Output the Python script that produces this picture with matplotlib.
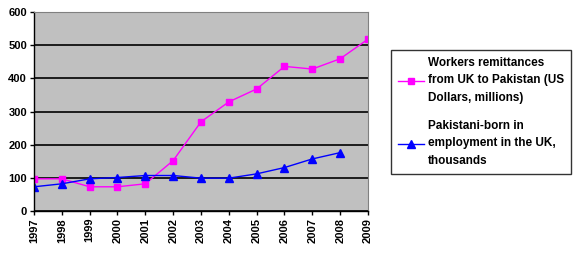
import matplotlib
matplotlib.use("Agg")
import matplotlib.pyplot as plt

years = ["1997", "1998", "1999", "2000", "2001", "2002", "2003",
         "2004", "2005", "2006", "2007", "2008", "2009"]
remittances = [97, 97, 73, 73, 82, 152, 269, 329, 368, 436, 428, 459, 518]
employment = [73, 82, 97, 101, 107, 107, 99, 99, 112, 131, 157, 176]
yticks = [0, 100, 200, 300, 400, 500, 600]

plt.rcParams['font.family'] = ['Liberation Sans', 'DejaVu Sans']

fig = plt.figure(figsize=(5.77, 2.6), dpi=100)
ax = fig.add_axes([34/577, 49/260, 334/577, 199/260])
ax.set_facecolor('#C0C0C0')

x = list(range(len(years)))
ax.plot(x, remittances, color='#FF00FF', lw=1.0, marker='s', ms=5,
        label='Workers remittances\nfrom UK to Pakistan (US\nDollars, millions)')
ax.plot(x[:len(employment)], employment, color='#0000FF', lw=1.0, marker='^', ms=5.5,
        label='Pakistani-born in\nemployment in the UK,\nthousands')

ax.set_xlim(0, len(years) - 1)
ax.set_ylim(0, 600)
ax.set_yticks(yticks)
ax.set_yticklabels([str(v) for v in yticks], fontsize=8, fontweight='bold')
ax.set_xticks(x)
ax.set_xticklabels(years, rotation=90, fontsize=8, fontweight='bold')
ax.yaxis.grid(True, color='black', lw=1.2)
ax.set_axisbelow(True)
ax.tick_params(axis='y', length=3, width=1, pad=2)
ax.tick_params(axis='x', length=3, width=1, pad=2)
for s in ['top', 'right']:
    ax.spines[s].set_color('#808080')
    ax.spines[s].set_linewidth(0.8)
for s in ['left', 'bottom']:
    ax.spines[s].set_color('black')
    ax.spines[s].set_linewidth(1)

leg = fig.legend(loc='upper left', bbox_to_anchor=(391/577, 1 - 50/260),
                 frameon=True, fancybox=False, edgecolor='black',
                 prop={'size': 8.5, 'weight': 'bold'}, handlelength=2.2,
                 handletextpad=0.3, borderpad=0.6, labelspacing=1.35,
                 borderaxespad=0)
for t in leg.get_texts():
    t.set_linespacing(1.6)
leg.get_frame().set_linewidth(1)

fig.savefig('out.png', dpi=100)
